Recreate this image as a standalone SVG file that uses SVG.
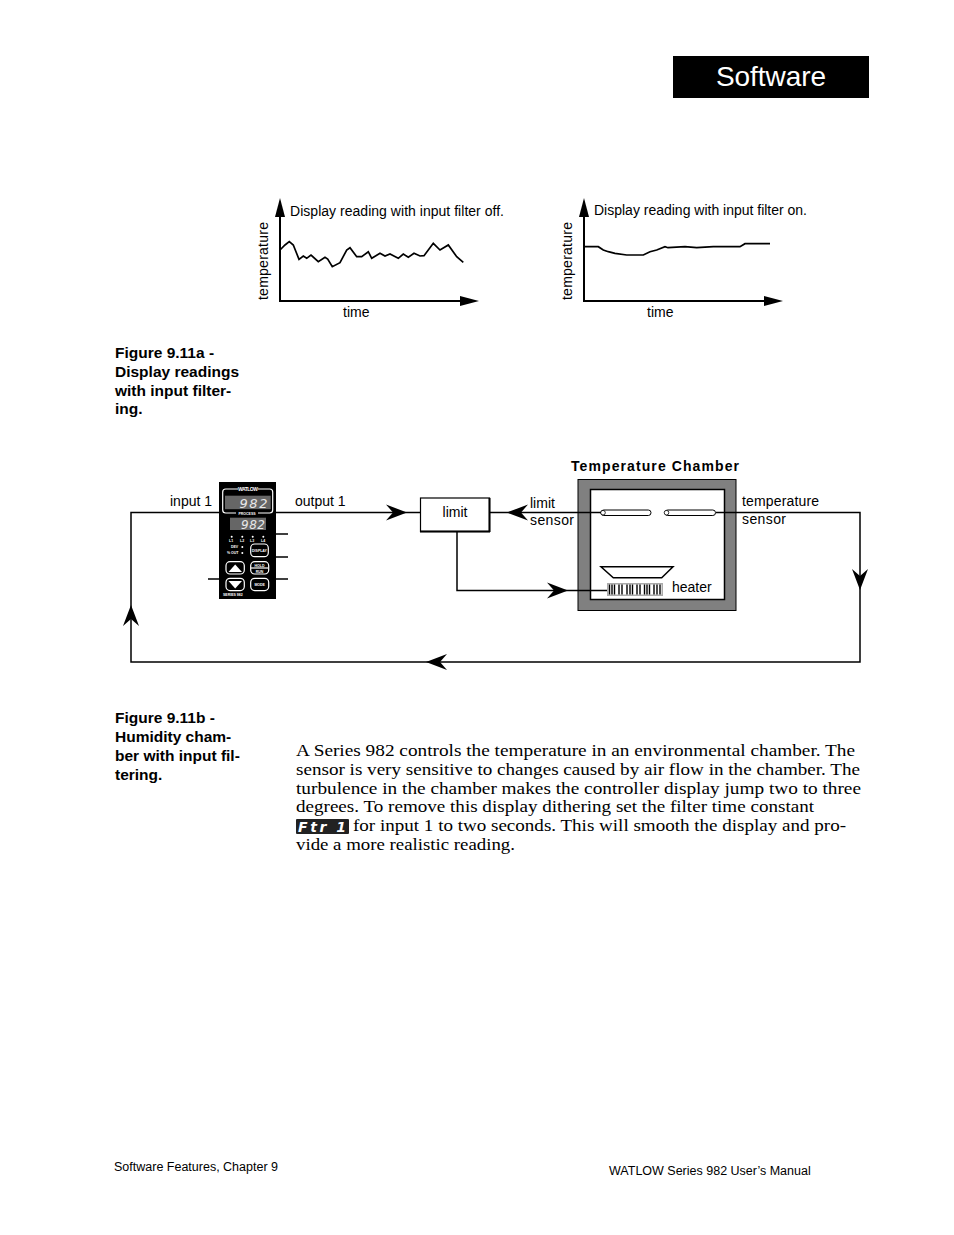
<svg xmlns="http://www.w3.org/2000/svg" width="954" height="1235" viewBox="0 0 954 1235">
<style>
text{font-family:"Liberation Sans",Arial,sans-serif;fill:#000}
.l{font-size:14px}
.c{font-size:15.5px;font-weight:bold}
.b{font-family:"Liberation Serif","Times New Roman",serif;font-size:17px}
.f{font-size:12.5px}
.w{stroke:#000;stroke-width:2;fill:none}
.t{stroke:#000;stroke-width:1.7;fill:none}
.k{stroke:#000;stroke-width:1.5;fill:none}
.d{font-size:4px;fill:#fff;font-weight:bold}
.s{fill:#e8e8e8;font-family:"DejaVu Sans",sans-serif;font-style:italic}
.wl{stroke:#fff;stroke-width:1.200;fill:none}
</style>
<defs>
<path id="ah" d="M0 0L-21 -8L-14 0L-21 8Z" fill="#000"/>
</defs>
<rect width="954" height="1235" fill="#fff"/>
<g id="header"><rect x="673" y="56" width="196" height="42" fill="#000"/><text x="771" y="86" text-anchor="middle" style="font-size:28px;fill:#fff" textLength="110">Software</text></g>

<g id="graph-off">
<path class="w" d="M280 210V301H465"/>
<path d="M280 198L285 217H275Z"/><path d="M479 301L460 296V306Z"/>
<path class="t" d="M280 250L285 245L289.300 241.700L293.300 245L299 259.300L303.300 256L306.700 258.300L311 255L318.300 261.700L325 257.300L327.700 259L332.300 266.700L340 262.700L346.700 250L350 247.700L356.700 256.700L361.700 256.700L368.300 251.700L371.700 258.300L380 253.300L385 256L390 254L398.300 258.300L403.300 254L408.300 257.300L414 253.300L420 256L424 255.700L433.300 243.300L440 250L448.300 245L456.700 256.700L463.300 262.300"/>
<text class="l" x="290" y="216" textLength="214">Display reading with input filter off.</text>
<text class="l" transform="translate(268 300) rotate(-90)" textLength="78">temperature</text>
<text class="l" x="343" y="317">time</text>
</g>
<g id="graph-on">
<path class="w" d="M584 210V301H769"/>
<path d="M584 198L589 217H579Z"/><path d="M783 301L764 296V306Z"/>
<path class="t" d="M585 246.700L598.300 246.700L603.300 250L608.300 251.700L615 253.300L626.700 255L643.300 255L650 251.700L656.700 250L665 246.700L668 247.700L685 246.700L696.700 247.700L713.300 246.700L740 246.700L745 243.700L770 243.700"/>
<text class="l" x="594" y="215" textLength="213">Display reading with input filter on.</text>
<text class="l" transform="translate(572 300) rotate(-90)" textLength="78">temperature</text>
<text class="l" x="647" y="317">time</text>
</g>

<g id="caption-a">
<text class="c" x="115" y="358">Figure 9.11a -</text>
<text class="c" x="115" y="377">Display readings</text>
<text class="c" x="115" y="396">with input filter-</text>
<text class="c" x="115" y="414">ing.</text>
</g>

<g id="controller">
<rect x="219" y="482" width="57" height="117" fill="#000"/>
<rect x="222.700" y="489" width="50" height="24" rx="3" class="wl"/>
<rect x="225" y="495.700" width="45.700" height="13.500" fill="#666"/>
<rect x="230" y="517.700" width="36" height="12.300" fill="#666"/>
<rect x="238" y="486" width="20" height="6" fill="#000"/>
<text class="d" x="248" y="491" text-anchor="middle" style="font-size:5px" textLength="20">WATLOW</text>
<rect x="236" y="510" width="22" height="6" fill="#000"/>
<text x="247" y="515" text-anchor="middle" class="d" style="font-size:3.500px">PROCESS</text>
<text class="s" x="239.500" y="507.500" style="font-size:13px" textLength="28">982</text>
<text class="s" x="241" y="528.500" style="font-size:12px" textLength="24">982</text>
<g fill="#fff"><circle cx="231.700" cy="536.700" r="1"/><circle cx="242.300" cy="536.700" r="1"/><circle cx="252.700" cy="536.700" r="1"/><circle cx="263.300" cy="536.700" r="1"/><circle cx="242.300" cy="547" r="1"/><circle cx="242.300" cy="553" r="1"/></g>
<g><text class="d" x="229" y="542" style="font-size:3.500px">L1</text><text class="d" x="240" y="542" style="font-size:3.500px">L2</text><text class="d" x="250" y="542" style="font-size:3.500px">L3</text><text class="d" x="261" y="542" style="font-size:3.500px">L4</text><text class="d" x="231" y="548" style="font-size:3.500px">DEV</text><text class="d" x="227" y="554" style="font-size:3.500px">% OUT</text></g>
<rect x="250.700" y="544" width="17.600" height="12.700" rx="4" class="wl"/><text class="d" x="259.500" y="551.700" text-anchor="middle" style="font-size:3.500px">DISPLAY</text>
<rect x="226" y="561.700" width="18.300" height="12.300" rx="4" class="wl"/><path d="M228.500 572L235.200 564.500L242 572Z" fill="#fff"/>
<rect x="250.700" y="561.700" width="18" height="12.300" rx="4" class="wl"/><path d="M251 568H268" class="wl"/><text class="d" x="259.500" y="566.700" text-anchor="middle" style="font-size:3.500px">HOLD</text><text class="d" x="259.500" y="572.700" text-anchor="middle" style="font-size:3.500px">RUN</text>
<rect x="226" y="578.300" width="18.300" height="12.300" rx="4" class="wl"/><path d="M228.500 581L235.200 588.500L242 581Z" fill="#fff"/>
<rect x="250.700" y="578.300" width="18" height="12.300" rx="4" class="wl"/><text class="d" x="259.700" y="586" text-anchor="middle" style="font-size:3.500px">MODE</text>
<text class="d" x="223" y="595.500" style="font-size:3.500px">SERIES 982</text>
</g>

<g id="limit"><rect x="420.500" y="498" width="69" height="33.500" fill="#fff" stroke="#000" stroke-width="1.200"/><path d="M420 531.500H490M489.500 498V532" stroke="#000" stroke-width="2"/><text class="l" x="455" y="517" text-anchor="middle">limit</text></g>

<g id="chamber">
<rect x="578" y="479.500" width="158" height="131" fill="#808080" stroke="#000"/>
<rect x="590.500" y="489.500" width="134" height="110" fill="#fff" stroke="#000" stroke-width="1.500"/>
<rect x="601" y="510" width="50" height="5.500" rx="2.700" fill="#fff" stroke="#000" stroke-width="1"/>
<circle cx="603" cy="512.700" r="2.300" fill="#fff" stroke="#000" stroke-width=".8"/>
<rect x="665" y="510" width="50.500" height="5.500" rx="2.700" fill="#fff" stroke="#000" stroke-width="1"/>
<circle cx="666.500" cy="512.700" r="2.300" fill="#fff" stroke="#000" stroke-width=".8"/>
<path d="M601 566.700H673L661.700 577.700H613.300Z" fill="#fff" stroke="#000" stroke-width="1.500"/>
<rect x="607" y="583" width="56" height="13" fill="#aaa"/>
<rect x="608.500" y="584.500" width="53" height="10" fill="#fff"/>
<path stroke="#000" stroke-width="1.400" d="M609.500 584.500v10M612 584.500v10M614.500 584.500v10M619 584.500v10M622 584.500v10M627 584.500v10M630 584.500v10M632.500 584.500v10M637 584.500v10M640 584.500v10M644.500 584.500v10M647 584.500v10M649.500 584.500v10M654 584.500v10M657 584.500v10M660 584.500v10"/>
<text class="l" x="672" y="592">heater</text>
</g>

<g id="connectors">
<path class="k" d="M219 512.500H131V662H860V512.500H716"/>
<path class="k" d="M276 512.500H420"/>
<path class="k" d="M490 512.500H601"/>
<path class="k" d="M457 532V590.500H607"/>
<path class="k" d="M276 534H288M276 557H288M276 579H288M208 579H219"/>
<use href="#ah" transform="translate(407 512.500)"/>
<use href="#ah" transform="translate(507 512.500) rotate(180)"/>
<use href="#ah" transform="translate(568 590.500)"/>
<use href="#ah" transform="translate(860 590) rotate(90)"/>
<use href="#ah" transform="translate(131 605) rotate(-90)"/>
<use href="#ah" transform="translate(426 662) rotate(180)"/>
</g>

<g id="labels">
<text class="l" x="170" y="506">input 1</text>
<text class="l" x="295" y="506">output 1</text>
<text class="l" x="530" y="508">limit</text>
<text class="l" x="530" y="525" textLength="44">sensor</text>
<text class="l" x="742" y="506" textLength="77">temperature</text>
<text class="l" x="742" y="524" textLength="44">sensor</text>
<text x="571" y="471" style="font-size:14px;font-weight:bold" textLength="168">Temperature Chamber</text>
</g>

<g id="caption-b">
<text class="c" x="115" y="723">Figure 9.11b -</text>
<text class="c" x="115" y="742">Humidity cham-</text>
<text class="c" x="115" y="761">ber with input fil-</text>
<text class="c" x="115" y="780">tering.</text>
</g>

<g id="body">
<text class="b" x="296" y="756" textLength="559" lengthAdjust="spacingAndGlyphs">A Series 982 controls the temperature in an environmental chamber. The</text>
<text class="b" x="296" y="775" textLength="564" lengthAdjust="spacingAndGlyphs">sensor is very sensitive to changes caused by air flow in the chamber. The</text>
<text class="b" x="296" y="794" textLength="565" lengthAdjust="spacingAndGlyphs">turbulence in the chamber makes the controller display jump two to three</text>
<text class="b" x="296" y="812" textLength="518" lengthAdjust="spacingAndGlyphs">degrees. To remove this display dithering set the filter time constant</text>
<rect x="296" y="819" width="53" height="15" rx="1" fill="#222"/>
<text x="298" y="832" style="font-family:'DejaVu Sans',sans-serif;font-size:14px;font-weight:bold;font-style:italic;fill:#fff" textLength="48">Ftr 1</text>
<text class="b" x="353" y="831" textLength="493" lengthAdjust="spacingAndGlyphs">for input 1 to two seconds. This will smooth the display and pro-</text>
<text class="b" x="296" y="850" textLength="219" lengthAdjust="spacingAndGlyphs">vide a more realistic reading.</text>
</g>

<g id="footer">
<text class="f" x="114" y="1171">Software Features, Chapter 9</text>
<text class="f" x="609" y="1175">WATLOW Series 982 User’s Manual</text>
</g>
</svg>
